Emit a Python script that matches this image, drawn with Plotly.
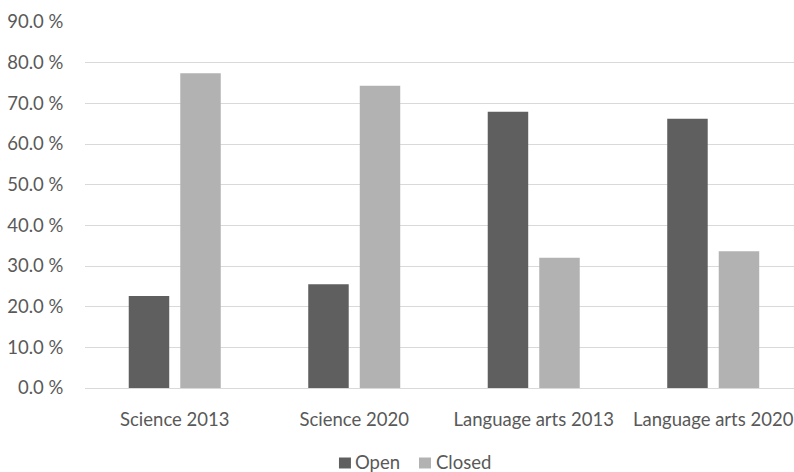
import plotly.graph_objects as go

categories = ["Science 2013", "Science 2020", "Language arts 2013", "Language arts 2020"]
open_pct = [22.6, 25.5, 67.9, 66.2]
closed_pct = [77.4, 74.3, 32.0, 33.6]
y_ticks = [0, 10, 20, 30, 40, 50, 60, 70, 80, 90]
y_tick_labels = [f"{v:.1f} %" for v in y_ticks]
series_names = ["Open", "Closed"]
series_colors = ["#5f5f5f", "#b2b2b2"]

FONT = "Lato, 'Open Sans', sans-serif"
TEXT = "#595959"
FS = 18.5

fig = go.Figure()
for name, vals, col in zip(series_names, [open_pct, closed_pct], series_colors):
    fig.add_trace(go.Bar(name=name, x=categories, y=vals,
                         marker=dict(color=col, line=dict(width=0)),
                         showlegend=False))

# compact legend beneath the axis: a coloured key square and the series name
legend_key_x0 = [0.3582, 0.4711]
KEY_W = 0.0169
KEY_Y0, KEY_Y1 = -0.2199, -0.1899
legend_text_x = [0.3787, 0.4916]
LEG_Y = -0.2035
for name, col, kx, tx in zip(series_names, series_colors, legend_key_x0, legend_text_x):
    fig.add_shape(type="rect", xref="paper", yref="paper",
                  x0=kx, x1=kx + KEY_W, y0=KEY_Y0, y1=KEY_Y1,
                  fillcolor=col, line=dict(width=0))
    fig.add_annotation(text=name, xref="paper", yref="paper", x=tx, y=LEG_Y,
                       xanchor="left", yanchor="middle", showarrow=False,
                       font=dict(family=FONT, size=FS, color=TEXT))

fig.update_layout(
    width=794, height=472,
    margin=dict(l=85, r=0, t=22, b=84),
    paper_bgcolor="white", plot_bgcolor="white",
    barmode="group", bargap=0.426, bargroupgap=0.214,
    font=dict(family=FONT, size=FS, color=TEXT),
)
fig.update_yaxes(range=[0, 90], tickvals=y_ticks, ticktext=y_tick_labels,
                 showgrid=True, gridcolor="#d9d9d9", gridwidth=1,
                 zeroline=False, showline=False,
                 ticks="outside", ticklen=17, tickcolor="rgba(0,0,0,0)")
# category axis runs a little past the right edge of the figure
fig.update_xaxes(range=[-0.5, 3.45], showline=True, linecolor="#d9d9d9", linewidth=1,
                 ticks="outside", ticklen=15, tickcolor="rgba(0,0,0,0)",
                 tickangle=0)

fig.write_html("out.html")
